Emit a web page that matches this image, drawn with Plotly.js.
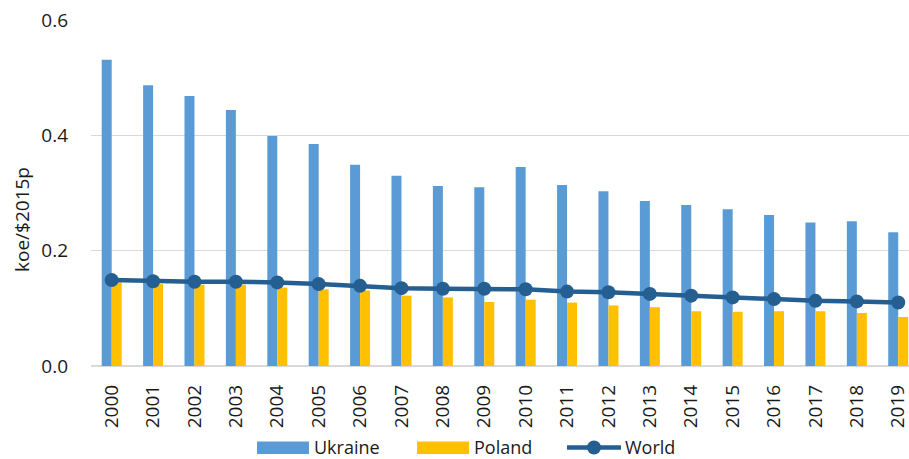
<!DOCTYPE html>
<html>
<head>
<meta charset="utf-8">
<script src="https://cdn.plot.ly/plotly-3.0.1.min.js"></script>
<style>html,body{margin:0;padding:0;background:#fff}#chart{width:909px;height:459px}</style>
</head>
<body>
<div id="chart"></div>
<script>
const years = ["2000","2001","2002","2003","2004","2005","2006","2007","2008","2009","2010","2011","2012","2013","2014","2015","2016","2017","2018","2019"];
const ukraine = [0.531,0.487,0.468,0.444,0.399,0.385,0.349,0.330,0.312,0.310,0.345,0.314,0.303,0.286,0.279,0.272,0.262,0.249,0.251,0.232];
const poland = [0.145,0.142,0.141,0.141,0.136,0.133,0.131,0.122,0.119,0.111,0.115,0.110,0.105,0.102,0.095,0.094,0.095,0.095,0.092,0.085];
const world = [0.149,0.147,0.146,0.146,0.145,0.142,0.139,0.135,0.134,0.134,0.133,0.129,0.128,0.125,0.122,0.119,0.116,0.113,0.112,0.110];
const yTickVals = [0, 0.2, 0.4, 0.6];
const yTickText = ["0.0","0.2","0.4","0.6"];
const seriesNames = ["Ukraine","Poland","World"];
const yTitle = "koe/$2015p";

const font = "Open Sans, Liberation Sans, Arial, sans-serif";
const colU = "#5B9BD5", colP = "#FFC000", colW = "#255E91";
const traces = [
  {type:"bar", name:seriesNames[0], x:years, y:ukraine, marker:{color:colU}},
  {type:"bar", name:seriesNames[1], x:years, y:poland, marker:{color:colP}},
  {type:"scatter", mode:"lines+markers", name:seriesNames[2], x:years, y:world,
   line:{color:colW, width:4.5}, marker:{color:colW, size:14}}
];

// pixel -> paper helpers for the custom legend (plot area 91..909 x, 20..366 y)
const L = 91, W = 818, T = 20, H = 346;
const px = p => (p - L) / W;
const py = p => (T + H - p) / H;

const legY = 446.5;
const shapes = [
  {type:"rect", xref:"paper", yref:"paper", x0:px(257), x1:px(309), y0:py(441.5), y1:py(454), fillcolor:colU, line:{width:0}},
  {type:"rect", xref:"paper", yref:"paper", x0:px(417), x1:px(469), y0:py(441.5), y1:py(454), fillcolor:colP, line:{width:0}},
  {type:"line", xref:"paper", yref:"paper", x0:px(567), x1:px(621), y0:py(447.5), y1:py(447.5), line:{color:colW, width:4.5}},
  {type:"circle", xref:"paper", yref:"paper", x0:px(587), x1:px(601), y0:py(440.5), y1:py(454.5), fillcolor:colW, line:{width:0}}
];
const annotations = [
  {xref:"paper", yref:"paper", x:px(313), y:py(legY), xanchor:"left", yanchor:"middle", text:seriesNames[0], showarrow:false, borderpad:0, font:{size:18}},
  {xref:"paper", yref:"paper", x:px(473), y:py(legY), xanchor:"left", yanchor:"middle", text:seriesNames[1], showarrow:false, borderpad:0, font:{size:18}},
  {xref:"paper", yref:"paper", x:px(624), y:py(legY), xanchor:"left", yanchor:"middle", text:seriesNames[2], showarrow:false, borderpad:0, font:{size:18}},
  {xref:"paper", yref:"paper", x:px(22), y:py(220), xanchor:"center", yanchor:"middle", textangle:-90, text:yTitle, showarrow:false, font:{size:19}}
];

const layout = {
  width:909, height:459,
  margin:{l:91, r:0, t:20, b:93, pad:0},
  paper_bgcolor:"#fff", plot_bgcolor:"#fff",
  font:{family:font, size:19, color:"#1a1a1a"},
  barmode:"group", bargap:0.517, bargroupgap:0,
  showlegend:false,
  shapes:shapes, annotations:annotations,
  xaxis:{type:"category", range:[-0.5, 19.26], tickangle:-90, showgrid:false,
         showline:false, zeroline:false, ticks:"", ticklabelstandoff:14,
         tickfont:{size:19}, automargin:false},
  yaxis:{range:[0,0.6], tickvals:yTickVals, ticktext:yTickText, showgrid:true,
         gridcolor:"#D9D9D9", gridwidth:1, zeroline:true, zerolinecolor:"#D9D9D9",
         zerolinewidth:2, showline:false, ticks:"", ticklabelstandoff:22,
         tickfont:{size:19}, automargin:false}
};
Plotly.newPlot("chart", traces, layout, {displayModeBar:false, staticPlot:true});
</script>
</body>
</html>
